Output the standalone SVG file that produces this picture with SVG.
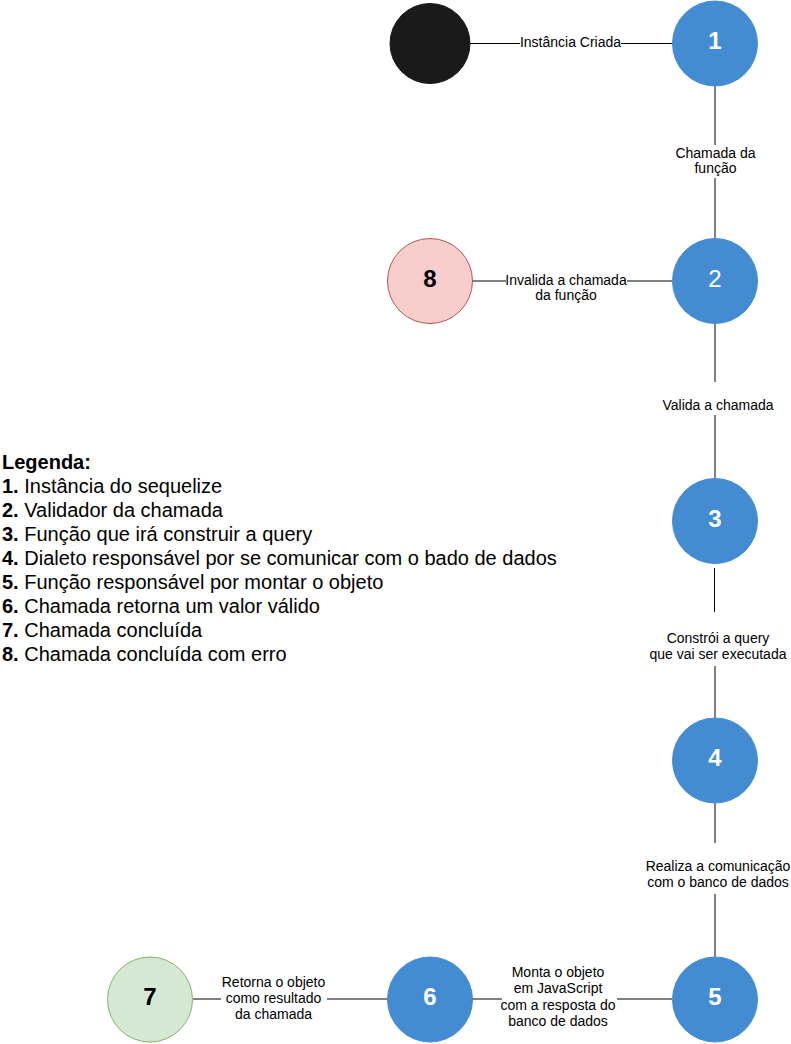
<svg xmlns="http://www.w3.org/2000/svg" width="791" height="1044" viewBox="0 0 791 1044">
<style>
.bg{fill:#ffffff}
.blue{fill:#438cd2;stroke:#438cd2;stroke-width:1}
.num{font-family:"Liberation Sans",Arial,sans-serif;font-size:24px;font-weight:bold;text-anchor:middle}
.lbl{font-family:"Liberation Sans",Arial,sans-serif;font-size:14px;text-anchor:middle;fill:#000}
.leg{font-family:"Liberation Sans",Arial,sans-serif;font-size:20px;fill:#000}
.edge{stroke:#808080;stroke-width:2;fill:none}
.edgek{stroke:#000;stroke-width:1;fill:none}
</style>
<rect class="bg" x="0" y="0" width="791" height="1044"/>
<g id="connectors">
  <g id="e-start-1">
    <line class="edgek" x1="470" y1="43.5" x2="520" y2="43.5"/>
    <line class="edgek" x1="621" y1="43.5" x2="672" y2="43.5"/>
    <text class="lbl" x="570.5" y="47">Instância Criada</text>
  </g>
  <g id="e-1-2">
    <line class="edge" x1="715" y1="86" x2="715" y2="145"/>
    <line class="edge" x1="715" y1="178" x2="715" y2="238"/>
    <text class="lbl" x="715.5" y="158">Chamada da</text>
    <text class="lbl" x="715.5" y="173">função</text>
  </g>
  <g id="e-2-8">
    <line class="edge" x1="472" y1="281" x2="506" y2="281"/>
    <line class="edge" x1="627" y1="281" x2="672" y2="281"/>
    <text class="lbl" x="566" y="285">Invalida a chamada</text>
    <text class="lbl" x="566" y="300">da função</text>
  </g>
  <g id="e-2-3">
    <line class="edge" x1="715" y1="324" x2="715" y2="382"/>
    <line class="edge" x1="715" y1="415" x2="715" y2="478"/>
    <text class="lbl" x="718" y="410">Valida a chamada</text>
  </g>
  <g id="e-3-4">
    <line class="edgek" x1="714.5" y1="568" x2="714.5" y2="612"/>
    <line class="edge" x1="715" y1="666" x2="715" y2="718"/>
    <text class="lbl" x="718" y="643">Constrói a query</text>
    <text class="lbl" x="718" y="659">que vai ser executada</text>
  </g>
  <g id="e-4-5">
    <line class="edge" x1="715" y1="803" x2="715" y2="843"/>
    <line class="edge" x1="715" y1="894" x2="715" y2="957"/>
    <text class="lbl" x="718" y="871">Realiza a comunicação</text>
    <text class="lbl" x="718" y="887">com o banco de dados</text>
  </g>
  <g id="e-5-6">
    <line class="edge" x1="472" y1="999" x2="502" y2="999"/>
    <line class="edge" x1="617" y1="999" x2="672" y2="999"/>
    <text class="lbl" x="558" y="977">Monta o objeto</text>
    <text class="lbl" x="558" y="993">em JavaScript</text>
    <text class="lbl" x="558" y="1009.5">com a resposta do</text>
    <text class="lbl" x="558" y="1026">banco de dados</text>
  </g>
  <g id="e-6-7">
    <line class="edge" x1="193" y1="999" x2="221" y2="999"/>
    <line class="edge" x1="327" y1="999" x2="388" y2="999"/>
    <text class="lbl" x="273.5" y="986.5">Retorna o objeto</text>
    <text class="lbl" x="273.5" y="1003">como resultado</text>
    <text class="lbl" x="273.5" y="1019">da chamada</text>
  </g>
</g>
<g id="node-start">
  <circle cx="430" cy="43.5" r="40" fill="#1a1a1a" stroke="#1a1a1a"/>
</g>
<g id="node-1">
  <circle class="blue" cx="715" cy="43.5" r="42.5"/>
  <text class="num" x="715" y="49" fill="#fff">1</text>
</g>
<g id="node-2">
  <circle class="blue" cx="715" cy="281" r="42.5"/>
  <text class="num" x="715" y="286.5" fill="#fff" style="font-weight:normal">2</text>
</g>
<g id="node-8">
  <circle cx="430" cy="281" r="42.5" fill="#f8cecc" stroke="#b85450"/>
  <text class="num" x="430" y="286.5" fill="#000">8</text>
</g>
<g id="node-3">
  <circle class="blue" cx="715" cy="521" r="42.5"/>
  <text class="num" x="715" y="526.5" fill="#fff">3</text>
</g>
<g id="node-4">
  <circle class="blue" cx="715" cy="760.5" r="42.5"/>
  <text class="num" x="715" y="766" fill="#fff">4</text>
</g>
<g id="node-5">
  <circle class="blue" cx="715" cy="999.5" r="42.5"/>
  <text class="num" x="715" y="1005" fill="#fff">5</text>
</g>
<g id="node-6">
  <circle class="blue" cx="430" cy="999.5" r="42.5"/>
  <text class="num" x="430" y="1005" fill="#fff">6</text>
</g>
<g id="node-7">
  <circle cx="150" cy="999.5" r="42.5" fill="#d5e8d4" stroke="#82b366"/>
  <text class="num" x="150" y="1005" fill="#000">7</text>
</g>
<g id="legend">
  <text class="leg" x="2" y="469" font-weight="bold">Legenda:</text>
  <text class="leg" x="2" y="493"><tspan font-weight="bold">1.</tspan> Instância do sequelize</text>
  <text class="leg" x="2" y="517"><tspan font-weight="bold">2.</tspan> Validador da chamada</text>
  <text class="leg" x="2" y="541"><tspan font-weight="bold">3.</tspan> Função que irá construir a query</text>
  <text class="leg" x="2" y="565"><tspan font-weight="bold">4.</tspan> Dialeto responsável por se comunicar com o bado de dados</text>
  <text class="leg" x="2" y="589"><tspan font-weight="bold">5.</tspan> Função responsável por montar o objeto</text>
  <text class="leg" x="2" y="613"><tspan font-weight="bold">6.</tspan> Chamada retorna um valor válido</text>
  <text class="leg" x="2" y="637"><tspan font-weight="bold">7.</tspan> Chamada concluída</text>
  <text class="leg" x="2" y="661"><tspan font-weight="bold">8.</tspan> Chamada concluída com erro</text>
</g>
</svg>
